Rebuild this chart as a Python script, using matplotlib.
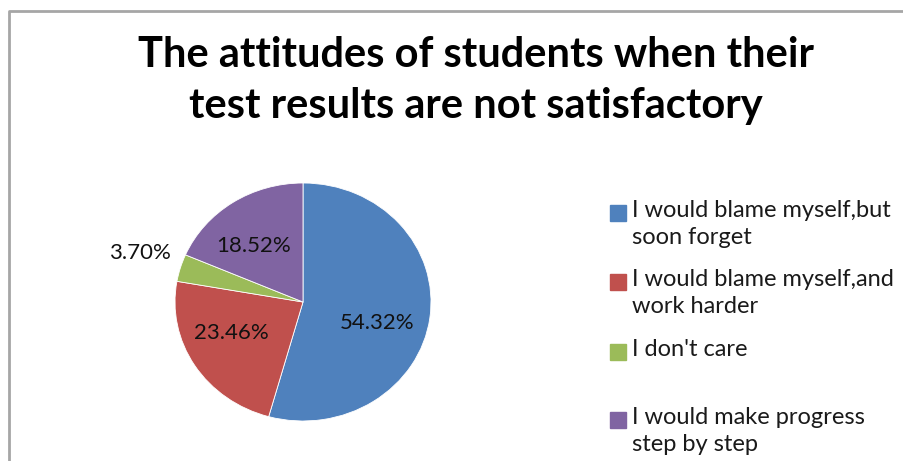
import matplotlib
matplotlib.use('Agg')
import matplotlib.pyplot as plt
from matplotlib.lines import Line2D
from matplotlib.patches import Rectangle

plt.rcParams['font.family'] = ['Lato', 'DejaVu Sans']

# answers and their shares (%)
answers = ["I would blame myself,but\nsoon forget",
           "I would blame myself,and\nwork harder",
           "I don't care",
           "I would make progress\nstep by step"]
shares = [54.32, 23.46, 3.70, 18.52]
colors = ['#4F81BD', '#C0504D', '#9BBB59', '#8064A2']

title_lines = ["The attitudes of students when their",
               "test results are not satisfactory"]

# where each percentage sits, in pie units (x, y)
label_pos = [(0.58, -0.18), (-0.56, -0.26), (-1.27, 0.41), (-0.39, 0.47)]

W, H = 904, 461
fig = plt.figure(figsize=(W / 100, H / 100), dpi=100)

# frame of the chart area (only the left and top edges show)
fig.add_artist(Line2D([9 / W, 9 / W, 1], [0, 1 - 11 / H, 1 - 11 / H],
                      transform=fig.transFigure, color='#A6A6A6', lw=2))

for line, base in zip(title_lines, [67, 118]):
    fig.text(476 / W, 1 - base / H, line, ha='center', va='baseline',
             fontsize=30, fontweight='bold', color='black')

# pie is slightly wider than tall
cx, cy, rx, ry = 303, 302, 128, 119
ax = fig.add_axes([(cx - rx) / W, (H - cy - ry) / H, 2 * rx / W, 2 * ry / H])
ax.pie(shares, colors=colors, startangle=90, counterclock=False,
       wedgeprops=dict(edgecolor='white', linewidth=0.6))
ax.set_aspect('auto')
ax.set_xlim(-1, 1)
ax.set_ylim(-1, 1)
ax.axis('off')

for val, (x, y) in zip(shares, label_pos):
    ax.text(x, y, f'{val:.2f}%', ha='center', va='center', fontsize=16,
            color='#111111', clip_on=False)

# legend, one two-line slot per entry
slot_top = [213, 282, 352, 420]
for name, col, yc in zip(answers, colors, slot_top):
    fig.add_artist(Rectangle((610 / W, 1 - (yc + 8) / H), 16 / W, 16 / H,
                             transform=fig.transFigure, color=col))
    fig.text(632 / W, 1 - (yc - 13) / H, name, ha='left', va='top',
             fontsize=17, color='#1a1a1a', linespacing=1.38)

fig.savefig('out.png', dpi=100)
